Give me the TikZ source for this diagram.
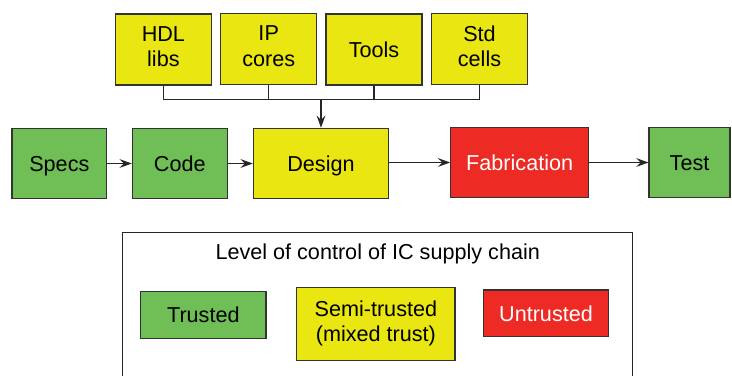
\documentclass[tikz,border=0pt]{standalone}
\usepackage{fontspec}
\setmainfont{Liberation Sans}
\usepackage{tikz}
\usetikzlibrary{arrows.meta,positioning,calc}
\definecolor{okgreen}{RGB}{111,190,86}
\definecolor{midyellow}{RGB}{234,230,17}
\definecolor{badred}{RGB}{238,42,36}
\newcommand\capstrut{\rule[-3.2pt]{0pt}{15.2pt}}
\tikzset{stage/.style={draw=black!80,line width=0.6pt,inner sep=0pt,minimum height=1.41cm,align=center,font=\fontsize{12.3}{14.4}\selectfont,execute at begin node=\capstrut,execute at end node=\capstrut}}
\tikzset{trusted/.style={stage,fill=okgreen}}
\tikzset{semi/.style={stage,fill=midyellow}}
\tikzset{untrusted/.style={stage,fill=badred,text=white}}

\begin{document}
\begin{tikzpicture}[>={Stealth[length=7pt,width=5pt,inset=2.5pt]},
        link/.style={draw=black!85,line width=0.6pt},
    ]
        \useasboundingbox (0,0) rectangle (14.64,-7.5);
        \node [semi,minimum width=1.92cm,minimum height=1.42cm] (hdl) at (3.268,-0.99) {HDL\\libs};
        \node [semi,minimum width=1.92cm,minimum height=1.42cm] (ip) at (5.374,-0.98) {IP\\cores};
        \node [semi,minimum width=1.92cm,minimum height=1.42cm] (tools) at (7.48,-0.99) {Tools};
        \node [semi,minimum width=1.92cm,minimum height=1.42cm] (std) at (9.59,-0.98) {Std\\cells};
        \node [trusted,minimum width=1.894cm] (specs) at (1.187,-3.27) {Specs};
        \node [trusted,minimum width=1.9cm] (code) at (3.596,-3.27) {Code};
        \node [semi,minimum width=2.708cm] (design) at (6.42,-3.27) {Design};
        \node [untrusted,minimum width=2.76cm,minimum height=1.4cm] (fab) at (10.394,-3.25) {Fabrication};
        \node [trusted,minimum width=1.62cm,minimum height=1.4cm] (test) at (13.79,-3.25) {Test};
        \coordinate (bus) at (6.42,-1.994);
        \draw [link] (hdl.south) |- (bus) -| (std.south);
        \draw [link] (ip.south) -- (ip.south |- bus);
        \draw [link] (tools.south) -- (tools.south |- bus);
        \draw [link,->] (bus) -- (design.north);
        \draw [link,->] (specs.east) -- (code.west);
        \draw [link,->] (code.east) -- (design.west);
        \draw [link,->] (design.east |- fab.west) -- (fab.west);
        \draw [link,->] (fab.east) -- (test.west);
        % legend frame, open at the bottom
        \draw [link] (2.454,-7.6) -- (2.454,-4.646) -- (12.654,-4.646) -- (12.654,-7.6);
        \node [font=\fontsize{12.3}{14.4}\selectfont] (title) at (7.554,-5.08) {Level of control of IC supply chain};
        \node [trusted,minimum width=2.506cm,minimum height=0.932cm] (keygreen) at (4.067,-6.3) {Trusted};
        \node [semi,minimum width=3.166cm,minimum height=1.46cm] (keyyellow) at (7.517,-6.484) {Semi-trusted\\(mixed trust)};
        \node [untrusted,minimum width=2.508cm,minimum height=0.934cm] (keyred) at (10.92,-6.267) {Untrusted};
    \end{tikzpicture}
\end{document}
